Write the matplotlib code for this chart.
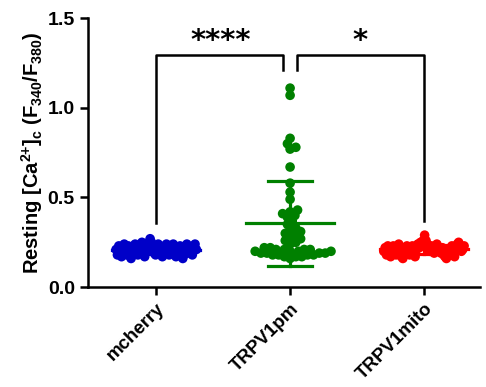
import numpy as np
import matplotlib
matplotlib.use("Agg")
import matplotlib.pyplot as plt

categories = ["mcherry", "TRPV1pm", "TRPV1mito"]
colors = ["#0000C8", "#008000", "#FF0000"]

# values read left-to-right across each cloud
mcherry = [0.21, 0.18, 0.23, 0.19, 0.17, 0.22, 0.24, 0.20, 0.18, 0.23, 0.21, 0.16,
           0.20, 0.23, 0.24, 0.21, 0.18, 0.20, 0.22, 0.25, 0.21, 0.17, 0.20, 0.24,
           0.25, 0.27, 0.25, 0.22, 0.19, 0.18, 0.21, 0.24, 0.22, 0.19, 0.17, 0.21,
           0.23, 0.24, 0.21, 0.18, 0.20, 0.23, 0.24, 0.21, 0.17, 0.18, 0.21, 0.23,
           0.20, 0.16, 0.18, 0.21, 0.24, 0.22, 0.19, 0.21, 0.18, 0.23, 0.24, 0.21]
trpv1pm = [1.11, 1.07, 0.83, 0.80, 0.78, 0.77, 0.67, 0.58, 0.53, 0.49, 0.43, 0.42,
           0.41, 0.40, 0.39, 0.37, 0.35, 0.33, 0.32, 0.31, 0.30, 0.29, 0.28, 0.27,
           0.26, 0.25, 0.24, 0.22, 0.21, 0.21, 0.20, 0.20, 0.19, 0.19, 0.18, 0.18,
           0.17, 0.17, 0.16, 0.22, 0.21, 0.20, 0.19, 0.18, 0.18, 0.17, 0.21, 0.20, 0.19]
trpv1mito = [0.20, 0.22, 0.18, 0.23, 0.20, 0.17, 0.21, 0.23, 0.19, 0.18, 0.21, 0.24,
             0.20, 0.17, 0.16, 0.19, 0.22, 0.23, 0.20, 0.18, 0.21, 0.23, 0.20, 0.17,
             0.21, 0.24, 0.22, 0.25, 0.23, 0.26, 0.29, 0.26, 0.24, 0.22, 0.20, 0.23,
             0.22, 0.19, 0.21, 0.24, 0.22, 0.20, 0.19, 0.22, 0.18, 0.17, 0.16, 0.18,
             0.21, 0.20, 0.23, 0.19, 0.17, 0.21, 0.24, 0.25, 0.23, 0.20, 0.21, 0.23]
groups = [mcherry, trpv1pm, trpv1mito]

plt.rcParams['font.family'] = ['Liberation Sans', 'DejaVu Sans']
plt.rcParams['font.weight'] = 'bold'
plt.rcParams['mathtext.default'] = 'bf'
plt.rcParams['mathtext.fontset'] = 'custom'
plt.rcParams['mathtext.bf'] = 'Liberation Sans:bold'
plt.rcParams['mathtext.rm'] = 'Liberation Sans:bold'

fig = plt.figure(figsize=(4.86, 3.87), dpi=100)
ax = fig.add_axes([0.181, 0.258, 0.807, 0.695])
ax.set_xlim(-0.51, 2.42)
ax.set_ylim(0, 1.5)

ppx = 0.807 * 486 / (2.42 + 0.51)   # px per x unit
ppy = 0.695 * 387 / 1.5             # px per y unit


def swarm(vals, dmin):
    order = np.argsort(vals)
    placed = []
    xs = np.zeros(len(vals))
    for idx in order:
        y = vals[idx] * ppy
        cands = [0.0]
        for (px, py) in placed:
            dy = y - py
            if abs(dy) < dmin:
                dx = np.sqrt(dmin**2 - dy**2)
                cands += [px + dx, px - dx]
        cands = sorted(cands, key=abs)
        for c in cands:
            ok = all((c - px)**2 + (y - py)**2 >= dmin**2 - 1e-6 for px, py in placed)
            if ok:
                xs[idx] = c
                placed.append((c, y))
                break
    return xs / ppx


ms = 48
for i, (vals, col) in enumerate(zip(groups, colors)):
    v = np.array(vals)
    if i == 1:
        offs = swarm(v, 6.0)
    else:
        offs = np.linspace(-0.3, 0.3, len(v))
    m = v.mean()
    sd = v.std(ddof=1)
    ax.plot([i - 0.33, i + 0.33], [m, m], color=col, lw=2.3, zorder=3)
    ax.plot([i, i], [m - sd, m + sd], color=col, lw=2.3, zorder=3)
    ax.plot([i - 0.165, i + 0.165], [m + sd, m + sd], color=col, lw=2.3, zorder=3)
    ax.plot([i - 0.165, i + 0.165], [m - sd, m - sd], color=col, lw=2.3, zorder=3)
    ax.scatter(i + offs, v, s=ms, color=col, edgecolors='none', zorder=2)

# significance brackets
ax.plot([0, 0, 0.95, 0.95], [0.36, 1.295, 1.295, 1.21], color='black', lw=1.8, clip_on=False)
ax.plot([1.05, 1.05, 2, 2], [1.21, 1.295, 1.295, 0.37], color='black', lw=1.8, clip_on=False)
ax.text(0.48, 1.375, "****", ha='center', va='center', fontsize=21, fontweight='bold',
        family='DejaVu Sans')
ax.text(1.52, 1.375, "*", ha='center', va='center', fontsize=21, fontweight='bold',
        family='DejaVu Sans')

for s in ['top', 'right']:
    ax.spines[s].set_visible(False)
for s in ['left', 'bottom']:
    ax.spines[s].set_linewidth(1.8)
ax.tick_params(width=1.8, length=6, labelsize=14)
ax.set_yticks([0.0, 0.5, 1.0, 1.5])
ax.set_yticklabels(["0.0", "0.5", "1.0", "1.5"], fontweight='bold')
ax.set_xticks(range(3))
ax.set_xticklabels(categories, rotation=45, ha='right', rotation_mode='anchor',
                   fontweight='bold', fontsize=13.5)
ax.set_ylabel(r"Resting [Ca$^{2{+}}$]$_{c}$ (F$_{340}$/F$_{380}$)",
              fontsize=14.5, fontweight='bold', labelpad=2)

fig.savefig("out.png", dpi=100)
